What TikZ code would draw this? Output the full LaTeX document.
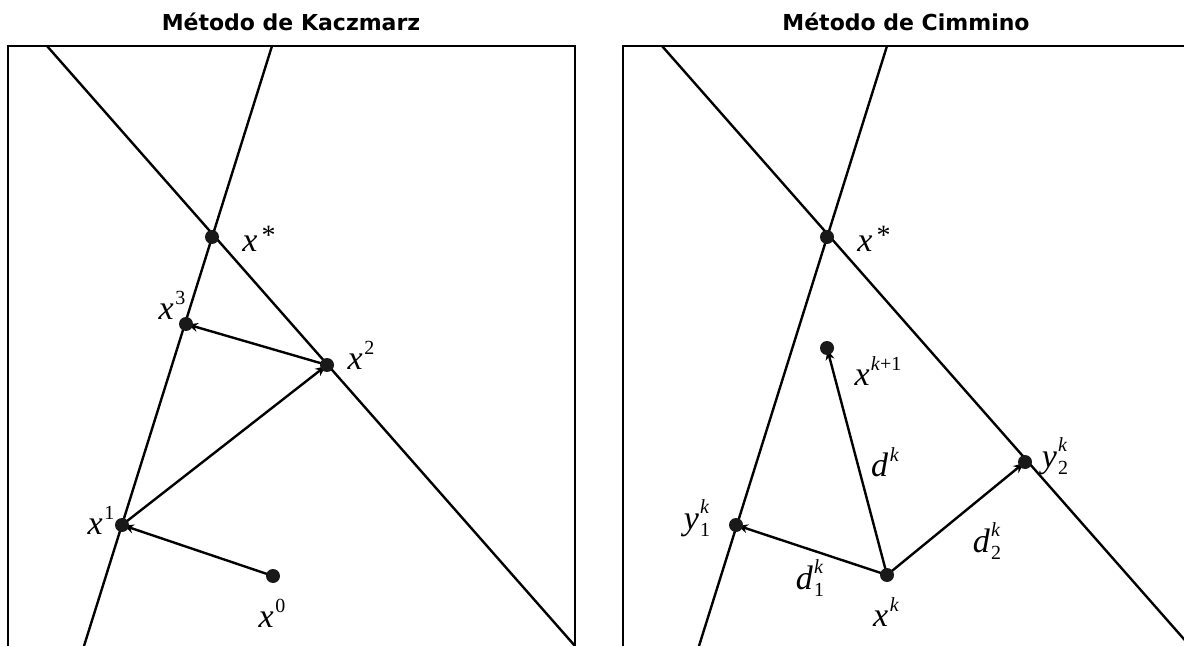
\documentclass[tikz,border=0pt]{standalone}
\usepackage{fontspec}
\setmainfont{Liberation Serif}
\newfontfamily\headfont{DejaVu Sans}
\usetikzlibrary{arrows.meta,backgrounds}

% script size for super- and subscripts
\newcommand\scr{\fontsize{20bp}{20bp}\selectfont}
% base with superscript only
\newcommand\labsup[2]{\textit{#1}\kern0.05em\raisebox{0.44em}{\scr #2}}
% base with superscript and subscript stacked
\newcommand\labboth[3]{\textit{#1}\kern0.03em\rlap{\raisebox{0.46em}{\scr\textit{#2}}}\raisebox{-0.22em}{\scr #3}}
% starred point label
\newcommand\labstar[1]{\textit{#1}\kern0.12em\raisebox{0.2em}{\fontsize{28bp}{28bp}\selectfont *}}

\tikzset{
  dot/.style={circle,fill=black!90,inner sep=0pt,minimum size=14bp},
  lbl/.style={font=\fontsize{34bp}{34bp}\selectfont,inner sep=0pt},
  ttl/.style={font=\headfont\bfseries\fontsize{22bp}{22bp}\selectfont,inner sep=0pt},
  frame/.style={line width=2.8bp,line cap=rect},
  geo/.style={line width=2.4bp},
  step arrow/.style={line width=2.4bp,-{Stealth[length=10bp,width=9bp]},shorten >=2bp}
}

\begin{document}
\begin{tikzpicture}[x=1bp,y=-1bp]
\useasboundingbox (0,0) rectangle (1184,646);
\clip (0,0) rectangle (1184,646);

% ---------------- Kaczmarz ----------------
\node[ttl] (t1) at (291,22) {Método de Kaczmarz};
\draw[frame] (8,700) -- (8,46) -- (575,46) -- (575,700);
\coordinate (a1) at (272,46);  \coordinate (a2) at (84,646);
\coordinate (b1) at (47,46);   \coordinate (b2) at (575,646);
\draw[geo] (a1) -- (a2);
\draw[geo] (b1) -- (b2);

\coordinate (ks) at (212,237);
\coordinate (k0) at (273,576);
\coordinate (k1) at (122,525);
\coordinate (k2) at (327,365);
\coordinate (k3) at (186,324);

\begin{scope}[on background layer]
  \draw[step arrow] (k0) -- (k1);
  \draw[step arrow] (k1) -- (k2);
  \draw[step arrow] (k2) -- (k3);
\end{scope}
\foreach \p in {ks,k0,k1,k2,k3} \node[dot] (d\p) at (\p) {};

\node[lbl] (lks) at (259,239) {\labstar{x}};
\node[lbl] (lk3) at (172,305) {\labsup{x}{3}};
\node[lbl] (lk2) at (361,355) {\labsup{x}{2}};
\node[lbl] (lk1) at (101,520) {\labsup{x}{1}};
\node[lbl] (lk0) at (272,613) {\labsup{x}{0}};

% ---------------- Cimmino ----------------
\node[ttl] (t2) at (906,22) {Método de Cimmino};
\draw[frame] (623,700) -- (623,46) -- (1200,46);
\coordinate (c1) at (887,46);  \coordinate (c2) at (699,646);
\coordinate (e1) at (662,46);  \coordinate (e2) at (1190,646);
\draw[geo] (c1) -- (c2);
\draw[geo] (e1) -- (e2);

\coordinate (cs) at (827,237);
\coordinate (xn) at (827,348);
\coordinate (y2) at (1025,462);
\coordinate (y1) at (736,525);
\coordinate (xk) at (887,575);

\begin{scope}[on background layer]
  \draw[step arrow] (xk) -- (y1);
  \draw[step arrow] (xk) -- (y2);
  \draw[step arrow] (xk) -- (xn);
\end{scope}
\foreach \p in {cs,xn,y2,y1,xk} \node[dot] (d\p) at (\p) {};

\node[lbl] (lcs) at (874,239) {\labstar{x}};
\node[lbl] (lxn) at (878,371) {\textit{x}\kern0.03em\raisebox{0.44em}{\scr\textit{k}+1}};
\node[lbl] (ldk) at (885,462) {\labsup{d}{\textit{k}}};
\node[lbl] (ly2) at (1055,456) {\labboth{y}{k}{2}};
\node[lbl] (ly1) at (697,518) {\labboth{y}{k}{1}};
\node[lbl] (ld1) at (810,578) {\labboth{d}{k}{1}};
\node[lbl] (ld2) at (987,541) {\labboth{d}{k}{2}};
\node[lbl] (lxk) at (886,612) {\labsup{x}{\textit{k}}};
\end{tikzpicture}
\end{document}
